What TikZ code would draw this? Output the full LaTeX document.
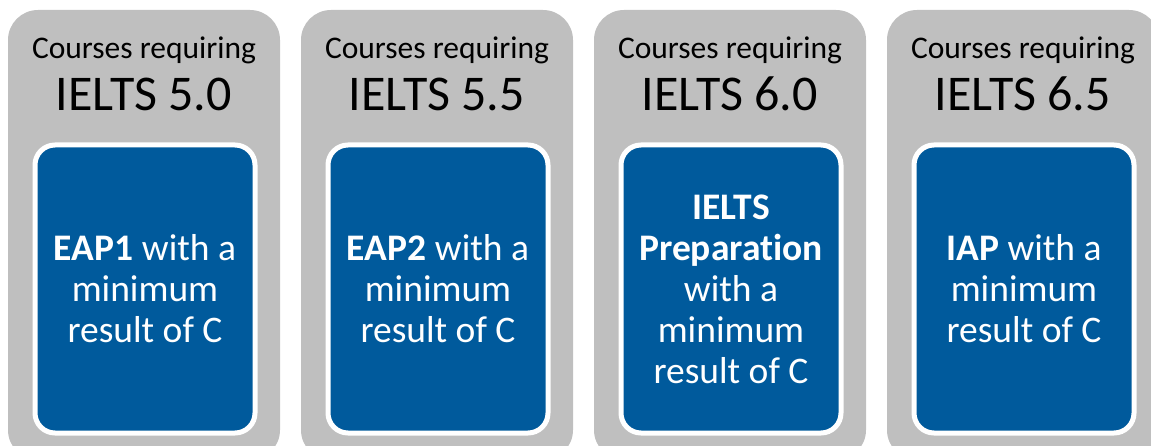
\documentclass[tikz,border=0pt]{standalone}
\usepackage{fontspec}
\setmainfont{Carlito}[Ligatures=NoCommon]
\definecolor{panelgrey}{HTML}{BFBFBF}
\definecolor{boxblue}{HTML}{005A9C}
\begin{document}
\begin{tikzpicture}[x=1pt,y=-1pt,
  panel/.style={fill=panelgrey,draw=none,rounded corners=30pt},
  inner/.style={fill=boxblue,draw=white,line width=5pt,rounded corners=20pt},
  headsmall/.style={font=\fontsize{31.5}{31.5}\selectfont,text=black,inner sep=0pt},
  headbig/.style={font=\fontsize{50}{50}\selectfont,text=black,inner sep=0pt},
  body/.style={font=\fontsize{37.5}{41}\selectfont,text=white,align=center,inner sep=0pt}]
\useasboundingbox (0,0) rectangle (1151,446);
\begin{scope}
\clip (0,0) rectangle (1151,446);
\foreach \i/\lvl/\txt [count=\n] in {0/5.0/{\textbf{EAP1} with a\\minimum\\result of C},
  1/5.5/{\textbf{EAP2} with a\\minimum\\result of C},
  2/6.0/{\textbf{IELTS}\\\textbf{Preparation}\\with a\\minimum\\result of C},
  3/6.5/{\textbf{IAP} with a\\minimum\\result of C}}{
  \pgfmathsetmacro{\xl}{8+293*\i}
  \path[panel] (\xl,10) rectangle ++(272,450);
  \path[inner] (\xl+27,145) rectangle ++(220,288);
  \node[headsmall] (h\n) at (\xl+136,50) {Courses requiring};
  \node[headbig] (l\n) at (\xl+136,94) {IELTS \lvl};
  \node[body] (b\n) at (\xl+137,289) {\txt};
}
\end{scope}
\end{tikzpicture}
\end{document}
